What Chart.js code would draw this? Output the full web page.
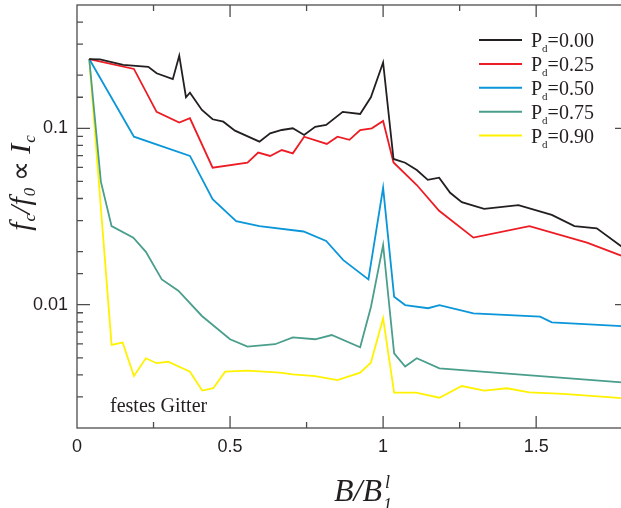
<!DOCTYPE html>
<html>
<head>
<meta charset="utf-8">
<script src="https://cdn.jsdelivr.net/npm/chart.js@4.4.1/dist/chart.umd.min.js"></script>
<style>
html,body{margin:0;padding:0;background:#fff;overflow:hidden;}
#wrap{width:621px;height:508px;overflow:hidden;position:relative;}
canvas{display:block;}
</style>
</head>
<body>
<div id="wrap"><canvas id="fc-chart" width="632" height="508"></canvas></div>
<script>
// B/B1 values and fc/f0 for each depinning fraction Pd
const pdLabels = ['0.00','0.25','0.50','0.75','0.90'];
const colors = ['#231f20','#ed1c24','#0a96d8','#4a9e8c','#fff200'];

const bK = [0.04,0.075,0.151,0.233,0.26,0.313,0.334,0.356,0.369,0.408,0.443,0.478,0.516,0.596,0.631,0.669,0.705,0.742,0.778,0.814,0.868,0.925,0.96,1.0,1.034,1.072,1.11,1.146,1.183,1.219,1.257,1.33,1.442,1.551,1.625,1.698,1.78];
const fK = [0.247,0.246,0.229,0.223,0.205,0.19,0.258,0.15,0.159,0.127,0.1125,0.109,0.097,0.084,0.0937,0.0978,0.1,0.0916,0.102,0.1044,0.124,0.1205,0.15,0.236,0.067,0.0638,0.058,0.051,0.0525,0.0431,0.0381,0.0349,0.0367,0.0323,0.0279,0.0271,0.0213];

const bR = [0.04,0.186,0.26,0.334,0.369,0.443,0.557,0.592,0.631,0.669,0.705,0.742,0.816,0.851,0.89,0.925,0.963,1.0,1.034,1.11,1.183,1.295,1.478,1.666,1.78];
const fR = [0.247,0.217,0.124,0.1077,0.114,0.0598,0.0638,0.0728,0.0697,0.0753,0.0721,0.0896,0.0815,0.0896,0.086,0.0978,0.1,0.11,0.064,0.0477,0.0341,0.024,0.0279,0.0225,0.0189];

const bB = [0.04,0.186,0.369,0.443,0.52,0.596,0.74,0.814,0.87,0.952,1.0,1.036,1.072,1.147,1.184,1.295,1.513,1.551,1.78];
const fB = [0.247,0.0896,0.0697,0.0396,0.0298,0.0279,0.026,0.023,0.0179,0.0139,0.046,0.0111,0.00995,0.00955,0.00995,0.00893,0.00855,0.00794,0.00757];

const bT = [0.04,0.078,0.113,0.184,0.225,0.277,0.331,0.408,0.5,0.557,0.647,0.705,0.778,0.832,0.925,0.96,1.0,1.036,1.072,1.11,1.184,1.78];
const fT = [0.247,0.0498,0.0279,0.024,0.01995,0.0139,0.012,0.00863,0.00637,0.00578,0.00597,0.00653,0.00637,0.00673,0.00574,0.00966,0.0218,0.0053,0.00446,0.00497,0.00436,0.00363];

const bY = [0.04,0.113,0.149,0.186,0.225,0.26,0.298,0.369,0.409,0.445,0.484,0.555,0.663,0.705,0.778,0.851,0.925,0.96,1.0,1.036,1.108,1.184,1.257,1.331,1.404,1.478,1.589,1.78];
const fY = [0.247,0.00592,0.0061,0.00394,0.00497,0.00466,0.00475,0.00417,0.00326,0.00336,0.00417,0.00423,0.00412,0.00403,0.00394,0.00374,0.00412,0.00469,0.00838,0.00317,0.00317,0.00297,0.00346,0.00326,0.00336,0.00318,0.00312,0.00295];

const xs = [bK,bR,bB,bT,bY];
const ys = [fK,fR,fB,fT,fY];

const SANS = '"Liberation Sans", Arial, sans-serif';
const SERIF = '"Liberation Serif", "Times New Roman", serif';
const AXIS = '#4d4d4d';

function zip(a,b){ return a.map((v,i)=>({x:v,y:b[i]})); }

const datasets = pdLabels.map((p,i)=>({
  label:'Pd='+p,
  data: zip(xs[i], ys[i]),
  borderColor: colors[i],
  borderWidth: 1.8,
  pointRadius: 0,
  tension: 0,
  fill: false
}));

function isDecade(v){
  const l = Math.log10(v);
  return Math.abs(l - Math.round(l)) < 1e-6;
}

// draws a run of text pieces; each piece may be shifted up/down and set smaller
function drawRich(ctx, parts, x, y){
  let cx = x;
  for(const p of parts){
    ctx.font = (p.italic?'italic ':'') + p.size + 'px ' + SERIF;
    ctx.fillText(p.t, cx, y + (p.dy||0));
    cx += ctx.measureText(p.t).width + (p.gap||0);
  }
  return cx - x;
}
function richWidth(ctx, parts){
  let w = 0;
  for(const p of parts){
    ctx.font = (p.italic?'italic ':'') + p.size + 'px ' + SERIF;
    w += ctx.measureText(p.t).width + (p.gap||0);
  }
  return w;
}

// frame with inward ticks on all four sides
const framePlugin = {
  id:'frame',
  beforeDatasetsDraw(chart){
    const {ctx, chartArea:a, scales:{x, y}} = chart;
    ctx.save();
    ctx.strokeStyle = AXIS;
    ctx.lineWidth = 1.3;
    ctx.strokeRect(a.left, a.top, a.right - a.left, a.bottom - a.top);
    ctx.beginPath();
    for(const t of x.ticks){
      const px = x.getPixelForValue(t.value);
      if(px <= a.left + 1 || px >= a.right - 1) continue;
      const len = Math.abs(t.value*2 - Math.round(t.value*2)) < 1e-6 ? 12 : 6;
      ctx.moveTo(px, a.bottom); ctx.lineTo(px, a.bottom - len);
      ctx.moveTo(px, a.top); ctx.lineTo(px, a.top + len);
    }
    for(const t of y.ticks){
      const py = y.getPixelForValue(t.value);
      if(py <= a.top + 1 || py >= a.bottom - 1) continue;
      const len = isDecade(t.value) ? 13 : 6;
      ctx.moveTo(a.left, py); ctx.lineTo(a.left + len, py);
      ctx.moveTo(a.right, py); ctx.lineTo(a.right - len, py);
    }
    ctx.stroke();
    ctx.restore();
  },
  afterDraw(chart){
    const {ctx} = chart;
    ctx.save();
    ctx.fillStyle = '#231f20';
    ctx.textBaseline = 'alphabetic';

    // legend with subscripted P_d
    pdLabels.forEach((p,i)=>{
      const ly = 40 + i*23.9;
      ctx.strokeStyle = colors[i];
      ctx.lineWidth = 2;
      ctx.beginPath(); ctx.moveTo(479, ly); ctx.lineTo(522, ly); ctx.stroke();
      drawRich(ctx, [
        {t:'P', size:20},
        {t:'d', size:11, dy:5},
        {t:'=' + p, size:20}
      ], 531, ly + 7);
    });

    // annotation
    ctx.font = '20px ' + SERIF;
    ctx.fillText('festes Gitter', 110, 412);

    // x axis title  B/B_1^l
    const bx = 334, by = 501;
    const w = drawRich(ctx, [{t:'B/B', size:32, italic:true, gap:3}], bx, by);
    drawRich(ctx, [{t:'l', size:18, italic:true}], bx + w, by - 13);
    drawRich(ctx, [{t:'1', size:18, italic:true}], bx + w - 2, by + 10);

    // y axis title  f_c/f_0 ∝ I_c, rotated
    const parts = [
      {t:'f', size:30, italic:true, gap:1},
      {t:'c', size:17, italic:true, dy:5},
      {t:'/f', size:30, italic:true, gap:1},
      {t:'0', size:17, italic:true, dy:5},
      {t:' \u221D ', size:28},
      {t:'I', size:30, italic:true, gap:1},
      {t:'c', size:17, italic:true, dy:5}
    ];
    const tw = richWidth(ctx, parts);
    ctx.translate(30, 183);
    ctx.rotate(-Math.PI/2);
    drawRich(ctx, parts, -tw/2, 0);
    ctx.restore();
  }
};

new Chart(document.getElementById('fc-chart'), {
  type:'line',
  data:{datasets},
  options:{
    responsive:false,
    animation:false,
    devicePixelRatio:1,
    layout:{padding:{left:0, top:5, right:4, bottom:0}},
    plugins:{legend:{display:false}, tooltip:{enabled:false}},
    scales:{
      x:{
        type:'linear', min:0, max:1.8,
        grid:{display:false, drawTicks:false},
        border:{display:false},
        ticks:{
          stepSize:0.25, autoSkip:false, maxRotation:0, padding:8,
          color:'#231f20', font:{family:SANS, size:18},
          callback:v => Math.abs(v*2 - Math.round(v*2)) < 1e-6 && v < 1.79 ? String(v) : ''
        },
        afterFit:s => { s.height = 80; s.paddingLeft = 0; s.paddingRight = 0; }
      },
      y:{
        type:'logarithmic', min:0.002, max:0.5,
        grid:{display:false, drawTicks:false},
        border:{display:false},
        ticks:{
          autoSkip:false, padding:9,
          color:'#231f20', font:{family:SANS, size:18},
          callback:v => isDecade(v) ? String(Number(v.toPrecision(3))) : ''
        },
        afterFit:s => { s.width = 77; s.paddingTop = 0; s.paddingBottom = 0; }
      }
    }
  },
  plugins:[framePlugin]
});
</script>
</body>
</html>
